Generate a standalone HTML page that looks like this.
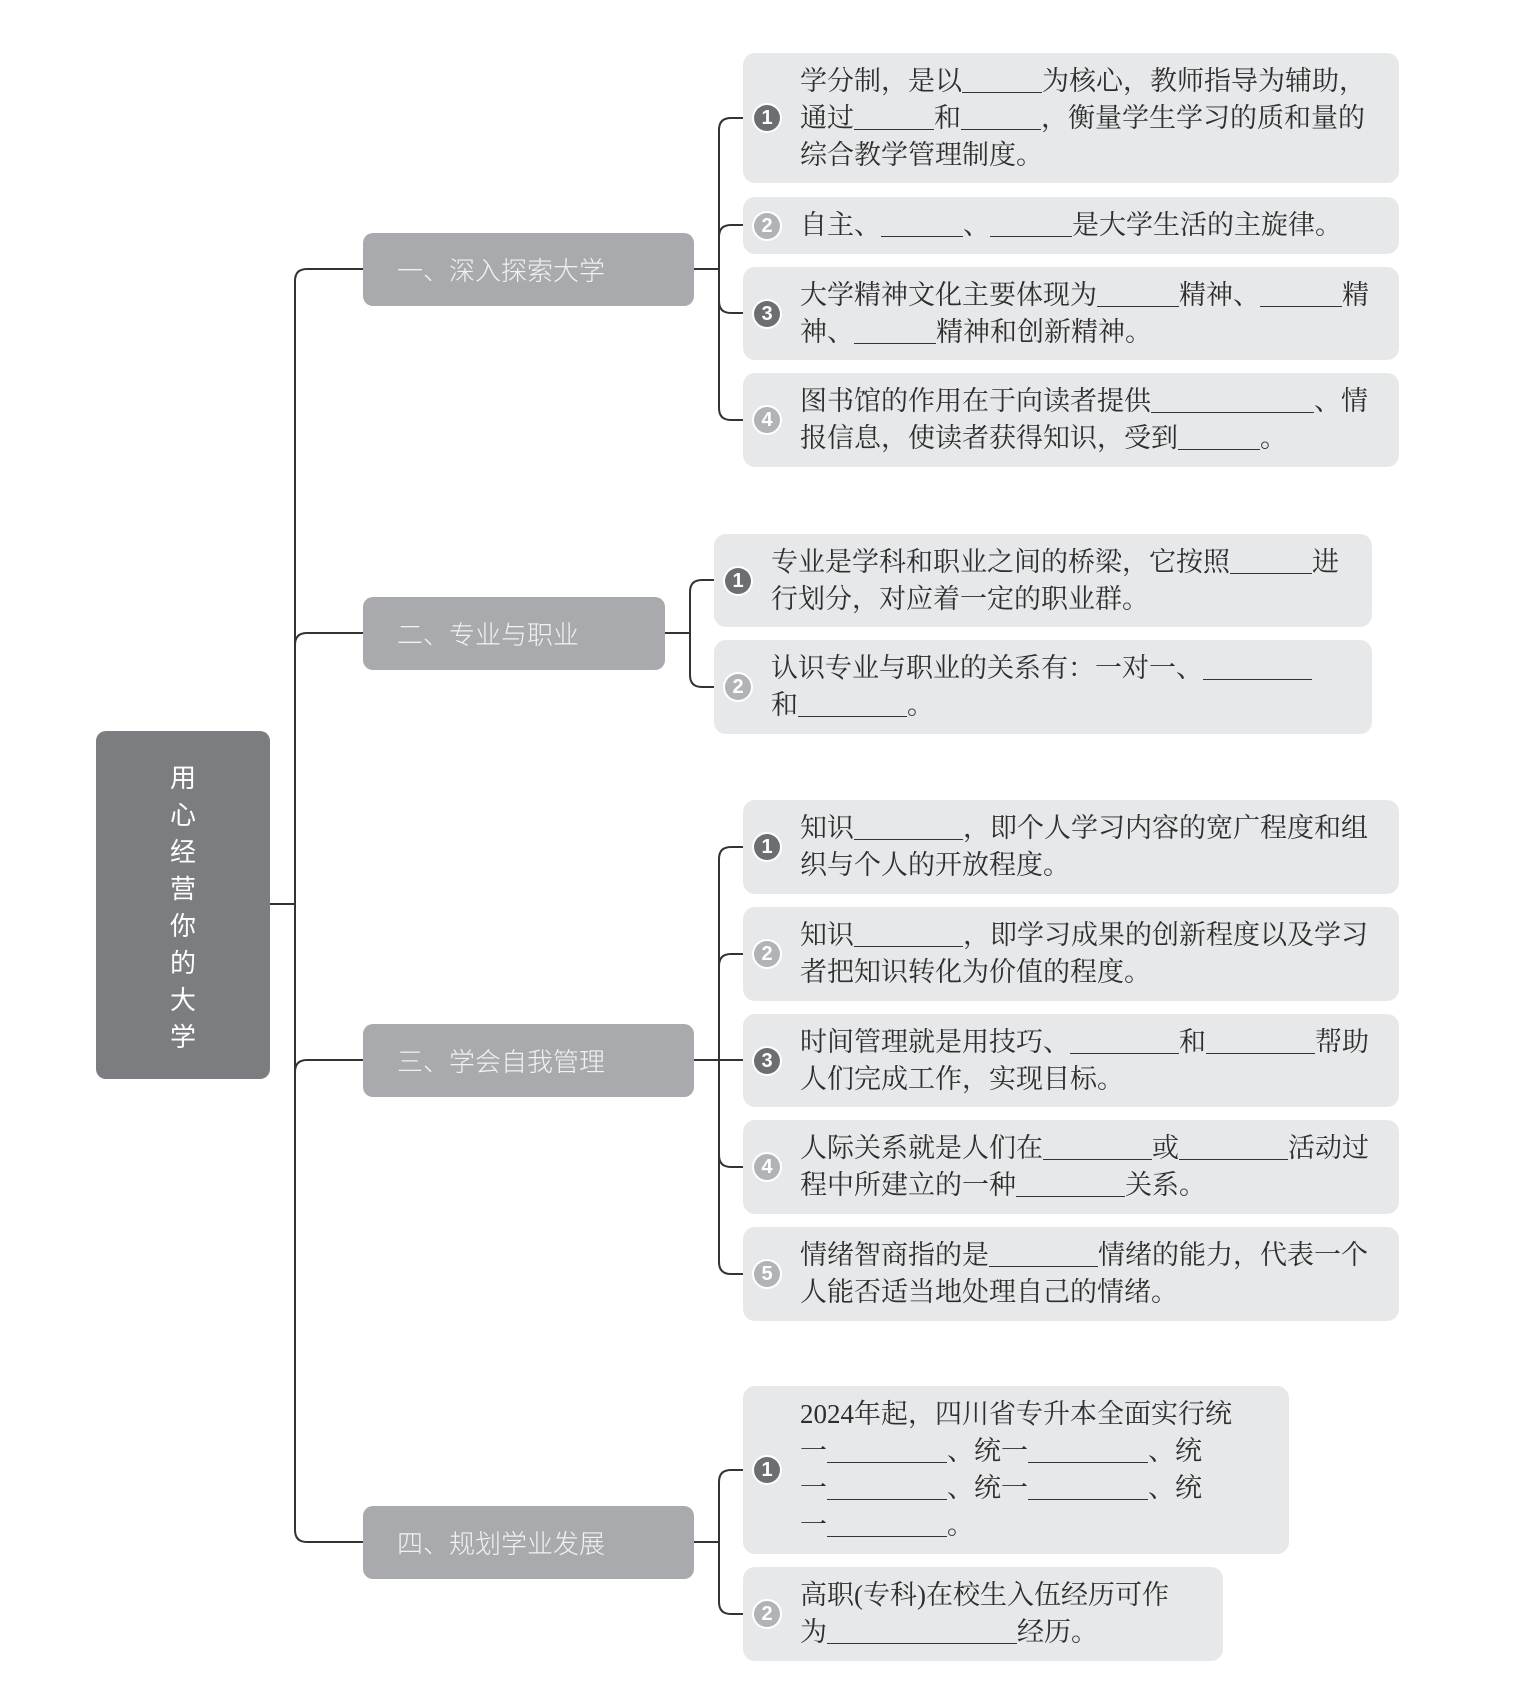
<!DOCTYPE html>
<html><head><meta charset="utf-8"><style>
body{margin:0;background:#fff;width:1536px;height:1704px;position:relative;overflow:hidden}
.root{position:absolute;left:96px;top:731px;width:174px;height:348px;background:#7b7d80;border-radius:10px;color:#fff;font-family:"Noto Sans CJK SC",sans-serif;font-size:26px;line-height:37px;text-align:center;box-sizing:border-box;padding-top:0}
.root div{position:absolute;left:0;width:100%;top:27px}
.br{position:absolute;left:363px;width:331px;height:73px;background:#a8aaad;border-radius:10px;color:#f2f2f2;font-family:"Noto Sans CJK SC",sans-serif;font-weight:300;font-size:26px;line-height:73px;padding-left:34px;box-sizing:border-box}
.lf{position:absolute;left:743px;width:656px;background:#e7e8e9;border-radius:12px;display:flex;align-items:center;padding-left:57px;box-sizing:border-box;font-family:"Liberation Serif","Noto Serif CJK SC",serif;font-size:27px;line-height:37px;color:#2e2e2e;white-space:nowrap}
.b{position:absolute;left:11px;top:50%;margin-top:-13px;width:26px;height:26px;border-radius:50%;color:#fff;font-family:"Liberation Sans",sans-serif;font-weight:bold;font-size:20px;line-height:26px;text-align:center;box-shadow:0 0 0 2px #fff}
.d{background:#6d6e71}.l{background:#b1b3b6}
u{display:inline-block;border-bottom:1.5px solid #333;height:27px;vertical-align:-3px;text-decoration:none}
</style></head><body>
<svg width="1536" height="1704" style="position:absolute;left:0;top:0" fill="none" stroke="#333" stroke-width="2">
<path d="M270,904H295"/>
<path d="M363,269H307Q295,269 295,281V1530Q295,1542 307,1542H363"/>
<path d="M295,633Q295,633 295,633M363,633H307Q295,633 295,645"/>
<path d="M363,1060H307Q295,1060 295,1072"/>
<path d="M694,269H719"/>
<path d="M743,118H731Q719,118 719,130V408Q719,420 731,420H743"/>
<path d="M743,225H731Q719,225 719,237"/>
<path d="M743,313H731Q719,313 719,301"/>
<path d="M665,633H690"/>
<path d="M714,580H702Q690,580 690,592V675Q690,687 702,687H714"/>
<path d="M694,1060H719"/>
<path d="M743,847H731Q719,847 719,859V1262Q719,1274 731,1274H743"/>
<path d="M743,954H731Q719,954 719,966"/>
<path d="M743,1060H719"/>
<path d="M743,1167H731Q719,1167 719,1155"/>
<path d="M694,1542H719"/>
<path d="M743,1470H731Q719,1470 719,1482V1602Q719,1614 731,1614H743"/>
</svg>
<div class="root"><div>用<br>心<br>经<br>营<br>你<br>的<br>大<br>学</div></div>
<div class="br" style="top:233px">一、深入探索大学</div>
<div class="br" style="top:597px;width:302px">二、专业与职业</div>
<div class="br" style="top:1024px">三、学会自我管理</div>
<div class="br" style="top:1506px">四、规划学业发展</div>

<div class="lf" style="top:53px;height:130px"><span class="b d">1</span><div>学分制，是以<u style="width:80px"></u>为核心，教师指导为辅助，<br>通过<u style="width:80px"></u>和<u style="width:80px"></u>，衡量学生学习的质和量的<br>综合教学管理制度。</div></div>
<div class="lf" style="top:197px;height:57px"><span class="b l">2</span><div>自主、<u style="width:82px"></u>、<u style="width:82px"></u>是大学生活的主旋律。</div></div>
<div class="lf" style="top:267px;height:93px"><span class="b d">3</span><div>大学精神文化主要体现为<u style="width:82px"></u>精神、<u style="width:82px"></u>精<br>神、<u style="width:82px"></u>精神和创新精神。</div></div>
<div class="lf" style="top:373px;height:94px"><span class="b l">4</span><div>图书馆的作用在于向读者提供<u style="width:163px"></u>、情<br>报信息，使读者获得知识，受到<u style="width:82px"></u>。</div></div>

<div class="lf" style="left:714px;width:658px;top:534px;height:93px"><span class="b d">1</span><div>专业是学科和职业之间的桥梁，它按照<u style="width:82px"></u>进<br>行划分，对应着一定的职业群。</div></div>
<div class="lf" style="left:714px;width:658px;top:640px;height:94px"><span class="b l">2</span><div>认识专业与职业的关系有：一对一、<u style="width:109px"></u><br>和<u style="width:109px"></u>。</div></div>

<div class="lf" style="top:800px;height:94px"><span class="b d">1</span><div>知识<u style="width:109px"></u>，即个人学习内容的宽广程度和组<br>织与个人的开放程度。</div></div>
<div class="lf" style="top:907px;height:94px"><span class="b l">2</span><div>知识<u style="width:109px"></u>，即学习成果的创新程度以及学习<br>者把知识转化为价值的程度。</div></div>
<div class="lf" style="top:1014px;height:93px"><span class="b d">3</span><div>时间管理就是用技巧、<u style="width:109px"></u>和<u style="width:109px"></u>帮助<br>人们完成工作，实现目标。</div></div>
<div class="lf" style="top:1120px;height:94px"><span class="b l">4</span><div>人际关系就是人们在<u style="width:109px"></u>或<u style="width:109px"></u>活动过<br>程中所建立的一种<u style="width:109px"></u>关系。</div></div>
<div class="lf" style="top:1227px;height:94px"><span class="b l">5</span><div>情绪智商指的是<u style="width:109px"></u>情绪的能力，代表一个<br>人能否适当地处理自己的情绪。</div></div>

<div class="lf" style="top:1386px;height:168px;width:546px"><span class="b d">1</span><div>2024年起，四川省专升本全面实行统<br>一<u style="width:120px"></u>、统一<u style="width:120px"></u>、统<br>一<u style="width:120px"></u>、统一<u style="width:120px"></u>、统<br>一<u style="width:120px"></u>。</div></div>
<div class="lf" style="top:1567px;height:94px;width:480px"><span class="b l">2</span><div>高职(专科)在校生入伍经历可作<br>为<u style="width:190px"></u>经历。</div></div>
</body></html>
